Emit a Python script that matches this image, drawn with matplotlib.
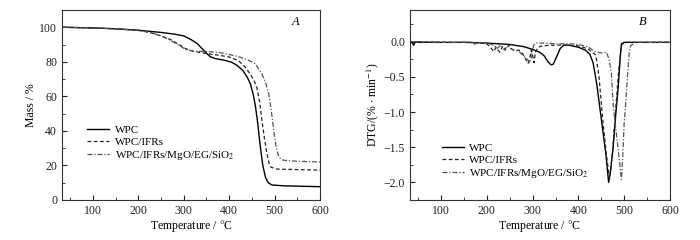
import matplotlib

matplotlib.use("Agg")

import matplotlib.pyplot as plt
from matplotlib.ticker import MultipleLocator

plt.rcParams["font.family"] = ["Liberation Serif", "DejaVu Serif"]
plt.rcParams["mathtext.fontset"] = "stix"

LABELS = ["WPC", "WPC/IFRs", "WPC/IFRs/MgO/EG/SiO$_2$"]

# --- TG (panel A) ---
tg_wpc_t = [35, 100, 150, 200, 250, 280, 300, 315, 330, 345, 358, 370, 388, 405, 417,
            430, 440, 447, 453, 458, 463, 468, 474, 480, 486, 494, 520, 600]
tg_wpc_m = [100, 99.6, 99.1, 98.3, 97, 96, 95, 93, 90.5, 86.3, 83, 81.8, 81, 79.8, 78,
            75, 71, 67, 61, 54, 44, 32, 20, 13, 10, 8.7, 8.2, 7.7]

tg_ifr_t = [35, 100, 150, 200, 225, 250, 270, 290, 305, 320, 340, 360, 380, 400, 420,
            435, 446, 455, 461, 467, 472, 478, 483, 488, 492, 505, 550, 600]
tg_ifr_m = [100, 99.6, 99.1, 98.2, 97, 95, 93, 90, 87.5, 86.2, 85.2, 84.4, 83.7, 82.8, 80.8,
            77, 73, 69, 65, 57, 46, 35, 27, 21, 19, 17.9, 17.6, 17.3]

tg_mgo_t = [35, 100, 150, 200, 225, 250, 270, 290, 305, 320, 340, 360, 380, 400, 420,
            440, 457, 472, 480, 487, 492, 498, 503, 509, 515, 520, 550, 600]
tg_mgo_m = [100, 99.6, 99.1, 98.2, 97.2, 95, 92.5, 89.5, 87, 86.3, 86, 85.8, 85.3, 84.2, 83,
            81.2, 79, 73, 68, 61.5, 53, 40.4, 31, 25, 23.5, 23, 22.4, 22]

# --- DTG (panel B) ---
dtg_wpc_t = [35, 40, 44, 50, 100, 150, 200, 250, 280, 300, 315, 325, 333, 340, 345, 352,
             360, 368, 380, 400, 415, 425, 432, 440, 450, 460, 466, 470, 476, 482, 487,
             491, 494, 500, 600]
dtg_wpc_v = [0, -0.05, 0, -0.01, -0.01, -0.01, -0.02, -0.04, -0.07, -0.11, -0.15, -0.2,
             -0.28, -0.33, -0.32, -0.22, -0.1, -0.05, -0.05, -0.08, -0.12, -0.18, -0.3,
             -0.6, -1.1, -1.6, -2.0, -1.85, -1.49, -1.0, -0.64, -0.25, -0.03, -0.01, -0.01]

dtg_ifr_t = [35, 100, 170, 200, 210, 215, 220, 228, 235, 240, 248, 255, 262, 270, 278,
             285, 290, 294, 297, 300, 303, 306, 312, 320, 340, 370, 400, 420, 438, 445,
             453, 461, 468, 474, 481, 488, 494, 500, 600]
dtg_ifr_v = [0, -0.01, -0.01, -0.03, -0.1, -0.14, -0.08, -0.15, -0.06, -0.12, -0.05,
             -0.11, -0.13, -0.12, -0.17, -0.25, -0.31, -0.22, -0.12, -0.2, -0.3, -0.15,
             -0.08, -0.06, -0.05, -0.05, -0.06, -0.1, -0.19, -0.5, -1.1, -1.6, -1.95,
             -1.6, -1.0, -0.4, -0.05, -0.01, -0.01]

dtg_mgo_t = [35, 100, 170, 175, 180, 200, 215, 222, 230, 238, 245, 252, 260, 270, 280,
             288, 294, 298, 302, 308, 320, 350, 380, 400, 420, 436, 450, 461, 467, 472,
             476, 481, 488, 494, 497, 500, 503, 507, 511, 514, 518, 525, 600]
dtg_mgo_v = [0, -0.01, -0.01, -0.05, -0.01, -0.02, -0.05, -0.1, -0.05, -0.12, -0.06,
             -0.1, -0.12, -0.14, -0.2, -0.25, -0.3, -0.2, -0.05, -0.02, -0.02, -0.03,
             -0.03, -0.04, -0.07, -0.14, -0.16, -0.15, -0.25, -0.45, -0.9, -1.2, -1.6,
             -1.96, -1.6, -1.15, -0.9, -0.5, -0.15, -0.06, -0.04, -0.01, -0.01]

STYLES = [
    dict(color="black", linestyle="-", linewidth=1.0),
    dict(color="#222222", linestyle=(0, (3, 2)), linewidth=0.9),
    dict(color="#555555", linestyle=(0, (4, 1.5, 1, 1.5)), linewidth=0.9),
]


def style_axes(ax):
    for side in ("left", "bottom", "top", "right"):
        ax.spines[side].set_linewidth(0.8)
        ax.spines[side].set_color("#333333")
    ax.tick_params(which="both", direction="in", top=False, right=False, labelsize=8.5,
                   colors="#222222")
    ax.tick_params(which="major", length=3.5)
    ax.tick_params(which="minor", length=2)
    ax.xaxis.set_major_locator(MultipleLocator(100))
    ax.xaxis.set_minor_locator(MultipleLocator(50))
    ax.set_xlim(32, 600)
    ax.set_xlabel("Temperature / $\\degree$C", fontsize=8.5, labelpad=1)


def add_legend(ax, anchor):
    ax.legend(loc="upper left", bbox_to_anchor=anchor, frameon=False, fontsize=8,
              handlelength=2.0, handletextpad=0.5, labelspacing=0.2, borderpad=0)


fig = plt.figure(figsize=(7, 2.4), dpi=100)
ax1 = fig.add_axes([0.0886, 0.1667, 0.3686, 0.7917])
ax2 = fig.add_axes([0.5857, 0.1667, 0.3714, 0.7917])

for (t, m), st, lab in zip([(tg_wpc_t, tg_wpc_m), (tg_ifr_t, tg_ifr_m), (tg_mgo_t, tg_mgo_m)],
                           STYLES, LABELS):
    ax1.plot(t, m, label=lab, **st)
style_axes(ax1)
ax1.set_ylim(0, 110)
ax1.yaxis.set_major_locator(MultipleLocator(20))
ax1.yaxis.set_minor_locator(MultipleLocator(10))
ax1.set_ylabel("Mass / %", fontsize=8.5, labelpad=2)
ax1.text(0.89, 0.92, "A", transform=ax1.transAxes, fontsize=9, style="italic")
add_legend(ax1, (0.075, 0.425))

for (t, v), st, lab in zip([(dtg_wpc_t, dtg_wpc_v), (dtg_ifr_t, dtg_ifr_v), (dtg_mgo_t, dtg_mgo_v)],
                           STYLES, LABELS):
    ax2.plot(t, v, label=lab, **st)
style_axes(ax2)
ax2.set_ylim(-2.25, 0.45)
ax2.yaxis.set_major_locator(MultipleLocator(0.5))
ax2.yaxis.set_minor_locator(MultipleLocator(0.25))
ax2.yaxis.set_major_formatter(plt.FuncFormatter(lambda v, p: f"{v:.1f}".replace("-", "\u2212")))
ax2.set_ylabel("DTG/(% $\\cdot$ min$^{-1}$)", fontsize=8.5, labelpad=2)
ax2.text(0.88, 0.92, "B", transform=ax2.transAxes, fontsize=9, style="italic")
add_legend(ax2, (0.1, 0.33))

fig.savefig("out.png", dpi=100)
plt.close(fig)
